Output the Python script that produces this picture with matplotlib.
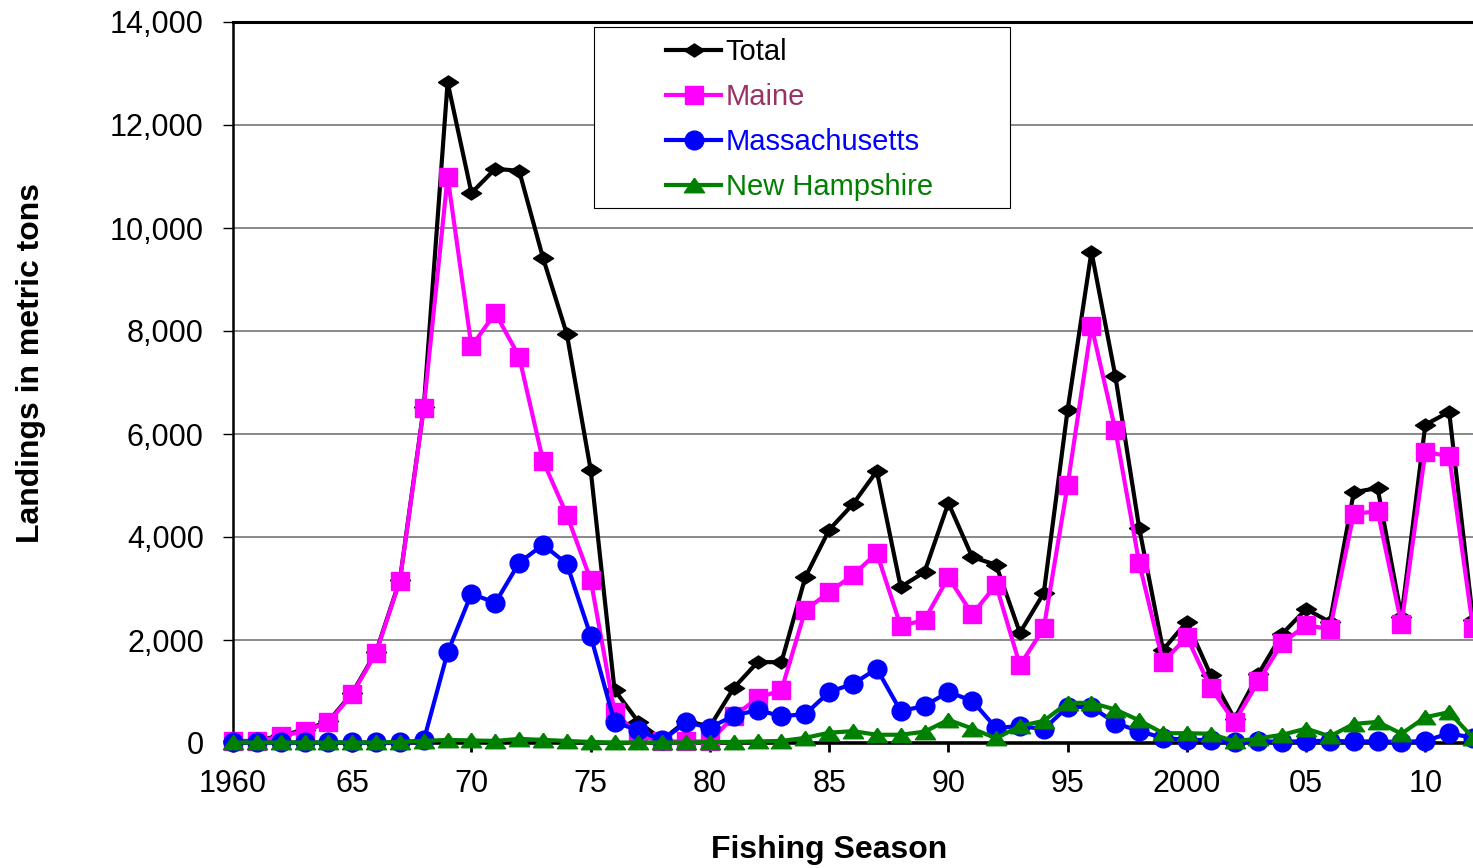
import matplotlib
matplotlib.use('Agg')
import matplotlib.pyplot as plt
from matplotlib.ticker import FuncFormatter
from matplotlib.patches import Rectangle

plt.rcParams['font.family'] = ['Liberation Sans', 'DejaVu Sans']

years = list(range(1960, 2013))

total = [40, 40, 150, 250, 420, 970, 1770, 3170, 6520, 12830,
         10680, 11150, 11110, 9420, 7940, 5300, 1030, 410, 60, 430,
         320, 1070, 1570, 1570, 3220, 4140, 4640, 5280, 3030, 3320,
         4660, 3610, 3460, 2140, 2910, 6470, 9540, 7130, 4180, 1810,
         2350, 1320, 470, 1340, 2120, 2600, 2350, 4870, 4950, 2450,
         6180, 6430, 2390]

maine = [30, 30, 130, 230, 400, 950, 1750, 3150, 6500, 11000,
         7700, 8350, 7500, 5480, 4430, 3170, 600, 150, 30, 30,
         30, 520, 870, 1030, 2580, 2930, 3260, 3690, 2270, 2390,
         3220, 2500, 3070, 1510, 2230, 5010, 8100, 6080, 3500, 1570,
         2060, 1070, 410, 1200, 1940, 2290, 2210, 4450, 4500, 2310,
         5650, 5570, 2230]

massachusetts = [10, 10, 10, 10, 10, 10, 10, 10, 50, 1760,
                 2900, 2720, 3500, 3850, 3480, 2080, 400, 250, 50, 400,
                 300, 530, 640, 520, 560, 990, 1150, 1440, 620, 720,
                 990, 820, 290, 330, 270, 700, 700, 390, 230, 100,
                 60, 60, 10, 40, 20, 40, 40, 30, 30, 20,
                 40, 190, 100]

new_hampshire = [10, 10, 10, 10, 10, 10, 10, 20, 40, 60,
                 50, 40, 80, 60, 40, 20, 10, 10, 10, 10,
                 20, 20, 30, 40, 100, 200, 230, 160, 160, 220,
                 450, 280, 90, 330, 430, 780, 780, 650, 440, 190,
                 190, 180, 30, 90, 160, 280, 130, 370, 410, 180,
                 500, 600, 100]

# Excel-like marker shapes (wide diamond, flat triangle)
diamond = [(-1, 0), (0, 0.65), (1, 0), (0, -0.65), (-1, 0)]
triangle = [(0, 0.72), (-1, -0.72), (1, -0.72), (0, 0.72)]

fig = plt.figure(figsize=(14.73, 8.68), dpi=100)
ax = fig.add_axes([233/1473, 125/868, 1240/1473, 721/868])

lw = 3.0
ax.plot(years, total, color='black', marker=diamond, markersize=14.5, linewidth=lw,
        label='Total', clip_on=False, zorder=3)
ax.plot(years, maine, color='#ff00ff', marker='s', markersize=13, linewidth=lw,
        label='Maine', clip_on=False, zorder=4)
ax.plot(years, massachusetts, color='#0000ff', marker='o', markersize=13.5, linewidth=lw,
        label='Massachusetts', clip_on=False, zorder=5)
ax.plot(years, new_hampshire, color='#008000', marker=triangle, markersize=14.5, linewidth=lw,
        label='New Hampshire', clip_on=False, zorder=6)

ax.set_xlim(1960, 2012)
ax.set_ylim(0, 14000)
ax.set_yticks(range(0, 14001, 2000))
ax.yaxis.set_major_formatter(FuncFormatter(lambda v, p: f'{int(v):,}'))
xt = list(range(1960, 2011, 5))
ax.set_xticks(xt)
ax.set_xticklabels(['1960', '65', '70', '75', '80', '85', '90', '95', '2000', '05', '10'])
ax.tick_params(axis='y', direction='out', length=7, width=1, labelsize=22, pad=14)
ax.tick_params(axis='x', direction='out', length=6.5, width=2, labelsize=22, pad=12)

ax.grid(axis='y', color='#808080', linewidth=1.3)
ax.set_axisbelow(True)
ax.spines['left'].set_linewidth(1.8)
ax.spines['bottom'].set_linewidth(2.6)
ax.spines['top'].set_linewidth(2.2)
ax.spines['right'].set_visible(False)

ax.set_ylabel('Landings in metric tons', fontsize=23, fontweight='bold')
ax.yaxis.set_label_coords(-0.151, 0.527)
ax.set_xlabel('Fishing Season', fontsize=23, fontweight='bold')
ax.xaxis.set_label_coords(0.4806, -0.128)

# legend box (Excel style: wide margins)
box = Rectangle((594/1473, (868-208)/868), 416/1473, 181/868, transform=fig.transFigure,
                facecolor='white', edgecolor='black', linewidth=0.8, zorder=9, clip_on=False)
ax.add_patch(box)

leg = ax.legend(loc='upper left', bbox_to_anchor=(666/1473, (868-38)/868),
                bbox_transform=fig.transFigure,
                fontsize=21, frameon=False, handlelength=1.9, handletextpad=0.15,
                borderpad=0, labelspacing=0.585, borderaxespad=0)
leg.set_zorder(10)
label_colors = ['black', '#993366', '#0000ff', '#008000']
for t, c in zip(leg.get_texts(), label_colors):
    t.set_color(c)

fig.savefig('out.png', dpi=100)
